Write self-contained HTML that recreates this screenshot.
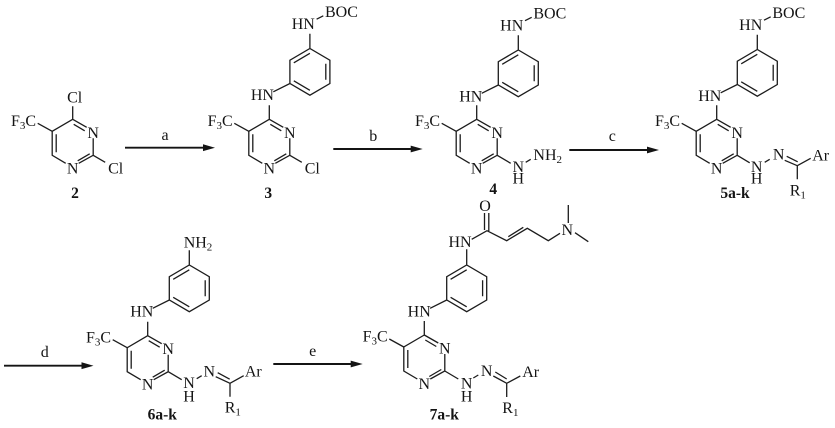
<!DOCTYPE html>
<html><head><meta charset="utf-8">
<style>
html,body{margin:0;padding:0;background:#fff}
svg{display:block}
text{font-family:"Liberation Serif",serif;font-size:16px;fill:#141414}
.m{text-anchor:middle}
.b{font-weight:bold;font-size:15.5px}
.s{font-size:11px}
.l{stroke:#1c1c1c;stroke-width:1.3;fill:none}
.a{stroke:#141414;stroke-width:1.9;fill:none}
</style></head><body>
<svg width="835" height="428" viewBox="0 0 835 428" xmlns="http://www.w3.org/2000/svg">
<rect width="835" height="428" fill="#fff"/>

<!-- Arrows -->
<path class="a" d="M125 147.7H208M333.3 149H416M569.3 150H652M4 365.7H87M273.3 364H356"/>
<path fill="#141414" d="M215 147.7l-12-3.4v6.8zM422.7 149l-12-3.4v6.8zM659 150l-12-3.4v6.8zM93.5 365.7l-12-3.4v6.8zM362.7 364l-12-3.4v6.8z"/>
<text class="m" x="165" y="140">a</text>
<text class="m" x="373.3" y="141">b</text>
<text class="m" x="612.3" y="141">c</text>
<text class="m" x="44.7" y="357">d</text>
<text class="m" x="312.7" y="356">e</text>

<!-- Compound 2 -->
<g transform="translate(72.7,119.3)">
<path class="l" d="M0 0L-20.5 12V36L-7 44M6 44L20.5 36V19M0 0L14 8M1 5L12 11.5M-16.5 15V33M5 41.5L17 34.5M0 0V-13M20.5 36L32.5 43"/>
<text class="m" x="20.5" y="18.5">N</text>
<text class="m" x="0" y="54">N</text>
<text x="-61.7" y="6.7">F<tspan class="s" dy="3">3</tspan><tspan dy="-3">C</tspan></text>
<path class="l" d="M-35 4L-20.5 12"/>
<text class="m" x="2" y="-17">Cl</text>
<text class="m" x="43" y="54">Cl</text>
</g>
<text class="m b" x="75" y="198">2</text>

<!-- Compound 3 -->
<g transform="translate(269.3,119.3)">
<path class="l" d="M0 0L-20.5 12V36L-7 44M6 44L20.5 36V19M0 0L14 8M1 5L12 11.5M-16.5 15V33M5 41.5L17 34.5M0 0V-14M20.5 36L32.5 43"/>
<text class="m" x="20.5" y="18.5">N</text>
<text class="m" x="0" y="54">N</text>
<text x="-61.7" y="6.7">F<tspan class="s" dy="3">3</tspan><tspan dy="-3">C</tspan></text>
<path class="l" d="M-35 4L-20.5 12"/>
<text class="m" x="43" y="54">Cl</text>
<g transform="translate(-1,-1.5)">
<text class="m" x="-5.9" y="-18">HN</text>
<path class="l" d="M5 -26L21.6 -34.3L41.6 -22.6L61.6 -34.3V-57.6L41.6 -69.3L21.6 -57.6V-34.3M41.6 -69.3V-84M25.5 -37L41.6 -27.5M57.5 -38V-54M25.5 -55L41.6 -64.5M48.3 -98.6L55 -102"/>
<text class="m" x="35" y="-89">HN</text>
<text x="56.7" y="-101">BOC</text>
</g>
</g>
<text class="m b" x="268.3" y="198">3</text>

<!-- Compound 4 -->
<g transform="translate(476.7,119.3)">
<path class="l" d="M0 0L-20.5 12V36L-7 44M6 44L20.5 36V19M0 0L14 8M1 5L12 11.5M-16.5 15V33M5 41.5L17 34.5M0 0V-14M20.5 36L34 44M49 43L54 40"/>
<text class="m" x="20.5" y="18.5">N</text>
<text class="m" x="0" y="54">N</text>
<text x="-61.7" y="6.7">F<tspan class="s" dy="3">3</tspan><tspan dy="-3">C</tspan></text>
<path class="l" d="M-35 4L-20.5 12"/>
<text class="m" x="41.6" y="52.5">N</text>
<text class="m" x="41.6" y="64">H</text>
<text x="56.7" y="40.7">NH<tspan class="s" dy="3">2</tspan></text>
<text class="m" x="-5.9" y="-18">HN</text>
<path class="l" d="M5 -26L21.6 -34.3L41.6 -22.6L61.6 -34.3V-57.6L41.6 -69.3L21.6 -57.6V-34.3M41.6 -69.3V-84M25.5 -37L41.6 -27.5M57.5 -38V-54M25.5 -55L41.6 -64.5M48.3 -98.6L55 -102"/>
<text class="m" x="35" y="-89">HN</text>
<text x="56.7" y="-101">BOC</text>
</g>
<text class="m b" x="493.3" y="194">4</text>

<!-- Compound 5 -->
<g transform="translate(716.7,119.3)">
<path class="l" d="M0 0L-20.5 12V36L-7 44M6 44L20.5 36V19M0 0L14 8M1 5L12 11.5M-16.5 15V33M5 41.5L17 34.5M0 0V-14M20.5 36L33 43.5M48 43L53 40"/>
<text class="m" x="20.5" y="18.5">N</text>
<text class="m" x="0" y="54">N</text>
<text x="-61.7" y="6.7">F<tspan class="s" dy="3">3</tspan><tspan dy="-3">C</tspan></text>
<path class="l" d="M-35 4L-20.5 12"/>
<text class="m" x="40" y="52.5">N</text>
<text class="m" x="40" y="64">H</text>
<text class="m" x="62" y="40">N</text>
<path class="l" d="M68 41L80.6 46.4L94 39M70 37L81 42.5M80.6 46.4V60"/>
<text class="m" x="104" y="41">Ar</text>
<text x="73" y="76">R<tspan class="s" dy="3">1</tspan></text>
<g transform="translate(-1,-0.5)">
<text class="m" x="-5.9" y="-18">HN</text>
<path class="l" d="M5 -26L21.6 -34.3L41.6 -22.6L61.6 -34.3V-57.6L41.6 -69.3L21.6 -57.6V-34.3M41.6 -69.3V-84M25.5 -37L41.6 -27.5M57.5 -38V-54M25.5 -55L41.6 -64.5M48.3 -98.6L55 -102"/>
<text class="m" x="35" y="-89">HN</text>
<text x="56.7" y="-101">BOC</text>
</g>
</g>
<text class="m b" x="735" y="198">5a-k</text>

<!-- Compound 6 -->
<g transform="translate(147.7,335.7)">
<path class="l" d="M0 0L-20.5 12V36L-7 44M6 44L20.5 36V19M0 0L14 8M1 5L12 11.5M-16.5 15V33M5 41.5L17 34.5M0 0V-14M20.5 36L34 44M49 43L54 40"/>
<text class="m" x="20.5" y="18.5">N</text>
<text class="m" x="0" y="54">N</text>
<text x="-61.7" y="6.7">F<tspan class="s" dy="3">3</tspan><tspan dy="-3">C</tspan></text>
<path class="l" d="M-35 4L-20.5 12"/>
<text class="m" x="41.3" y="52.5">N</text>
<text class="m" x="41.3" y="66">H</text>
<text class="m" x="61.6" y="41">N</text>
<path class="l" d="M68 41L82.3 47.6L96 40M70 37L82 43.5M82.3 47.6V61"/>
<text class="m" x="105.6" y="41">Ar</text>
<text x="77" y="77">R<tspan class="s" dy="3">1</tspan></text>
<g transform="translate(0,-1.4)">
<text class="m" x="-5.9" y="-18">HN</text>
<path class="l" d="M5 -26L21.6 -34.3L41.6 -22.6L61.6 -34.3V-57.6L41.6 -69.3L21.6 -57.6V-34.3M41.6 -69.3V-84M25.5 -37L41.6 -27.5M57.5 -38V-54M25.5 -55L41.6 -64.5"/>
</g>
<text x="36" y="-88">NH<tspan class="s" dy="3">2</tspan></text>
</g>
<text class="m b" x="162.3" y="419.5">6a-k</text>

<!-- Compound 7 -->
<g transform="translate(424.3,335)">
<path class="l" d="M0 0L-20.5 12V36L-7 44M6 44L20.5 36V19M0 0L14 8M1 5L12 11.5M-16.5 15V33M5 41.5L17 34.5M0 0V-14M20.5 36L34 44M49 43L54 40"/>
<text class="m" x="20.5" y="18.5">N</text>
<text class="m" x="0" y="54">N</text>
<text x="-61.7" y="6.7">F<tspan class="s" dy="3">3</tspan><tspan dy="-3">C</tspan></text>
<path class="l" d="M-35 4L-20.5 12"/>
<text class="m" x="42.4" y="53.3">N</text>
<text class="m" x="42.4" y="66.7">H</text>
<text class="m" x="62.4" y="41">N</text>
<path class="l" d="M69 41L82.4 48.3L96 41M71 37L82.4 44M82.4 48.3V62"/>
<text class="m" x="106.4" y="42">Ar</text>
<text x="78" y="78">R<tspan class="s" dy="3">1</tspan></text>
<g transform="translate(0.8,-0.7)">
<text class="m" x="-5.9" y="-18">HN</text>
<path class="l" d="M5 -26L21.6 -34.3L41.6 -22.6L61.6 -34.3V-57.6L41.6 -69.3L21.6 -57.6V-34.3M41.6 -69.3V-85M25.5 -37L41.6 -27.5M57.5 -38V-54M25.5 -55L41.6 -64.5"/>
</g>
</g>
<text class="m b" x="444.3" y="419.5">7a-k</text>
<text class="m" x="460" y="247">HN</text>
<path class="l" d="M471.7 239.3L487 230.7L506.7 240.7L527.3 228.3L548.3 240.7L560 233.3M484.5 230V213M488.8 231V213M508.3 236.7L523.3 227.3M568.3 205V223M575 232.7L588.3 241.7"/>
<text class="m" x="485" y="211">O</text>
<text class="m" x="567.3" y="235">N</text>
</svg>
</body></html>
